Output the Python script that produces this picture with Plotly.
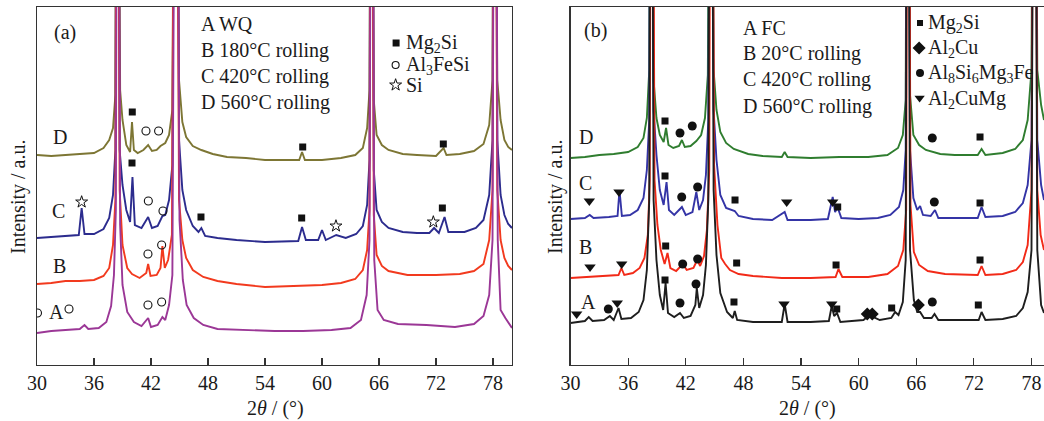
import plotly.graph_objects as go

# ---------------- data: panel (a) ----------------
a_D = [(30,210),(31.5,209),(33,210),(34.5,211),(36,212),(37,217),(37.6,225),(38.0,237),(38.25,270),(38.45,900),
       (38.75,275),(39.0,245),(39.4,220),(39.8,213),(40.0,243),(40.2,215),(40.6,212),(41.2,215),(41.7,220),(42.1,214),
       (42.6,215),(43.0,219),(43.5,222),(43.9,230),(44.25,255),(44.6,900),(44.95,285),(45.3,243),(45.7,228),(46.4,219),
       (47.3,215),(48.5,211),(50,208),(52,207),(54,205),(56,205),(57.6,205),(57.9,213),(58.2,205),(60,205),
       (62,207),(63.5,210),(64.3,217),(64.75,237),(65.0,275),(65.2,900),(65.45,265),(65.75,230),(66.3,220),(67,215),
       (68.5,211),(70,210),(72,209),(72.8,217),(73.1,210),(74.5,211),(76,214),(77,221),(77.6,240),(77.95,285),
       (78.15,900),(78.45,285),(78.8,245),(79.2,225),(79.6,218),(80,215)]
a_C = [(30,127),(31.5,128),(33,129),(34.4,130),(34.7,157),(35.0,131),(36,131),(37,136),(37.6,147),(38.0,170),
       (38.25,215),(38.45,900),(38.7,215),(39.0,180),(39.4,155),(39.8,143),(40.05,188),(40.3,140),(41.0,137),(41.7,148),
       (42.1,137),(42.7,139),(43.2,149),(43.5,150),(43.9,165),(44.25,200),(44.6,900),(44.95,225),(45.3,175),(45.7,155),
       (46.4,139),(47.0,133),(47.3,137),(47.7,129),(49,127),(51,125),(54,123),(57.5,124),(57.9,138),(58.3,125),
       (59.6,125),(60.0,135),(60.4,125),(61.5,130),(62.5,127),(63.6,131),(64.3,139),(64.75,160),(65.0,205),(65.2,900),
       (65.45,195),(65.75,155),(66.3,143),(67,137),(68.5,133),(70,132),(71.3,132),(71.8,137),(72.3,132),(72.9,148),
       (73.3,133),(75,133),(76.2,137),(77,145),(77.6,170),(77.95,225),(78.15,900),(78.45,225),(78.8,170),(79.2,150),
       (79.6,141),(80,137)]
a_B = [(30,81),(31.5,82),(33,84),(34.5,84),(36,85),(37,89),(37.6,97),(38.0,120),(38.25,165),(38.45,900),
       (38.7,175),(39.0,120),(39.5,97),(40.0,91),(40.8,87),(41.5,92),(41.7,101),(41.95,89),(42.6,90),(43.0,97),
       (43.2,119),(43.45,97),(43.8,105),(44.2,130),(44.6,900),(44.95,165),(45.3,125),(45.7,107),(46.4,95),(47.5,88),
       (49,84),(51,81),(54,78),(57,79),(60,80),(62,82),(63.5,86),(64.3,95),(64.75,115),(65.0,155),
       (65.2,900),(65.45,150),(65.75,110),(66.3,99),(67,94),(69,90),(72,90),(74.5,91),(76,94),(77,101),
       (77.6,125),(77.95,175),(78.15,900),(78.45,175),(78.8,125),(79.2,107),(79.6,99),(80,95)]
a_A = [(30,32),(31.5,34),(33,35),(34.5,36),(35.0,40),(35.4,36),(36.5,37),(37.3,43),(37.8,59),(38.1,90),
       (38.3,155),(38.5,900),(38.75,140),(39.0,80),(39.5,53),(40.2,43),(41.0,39),(41.7,47),(42.0,38),(42.7,40),
       (43.2,48),(43.5,45),(43.9,60),(44.25,90),(44.65,900),(45.0,145),(45.35,85),(45.75,60),(46.5,47),(47.5,40),
       (49,36),(52,35),(55,34),(58,34),(61,35),(63,37),(64.1,45),(64.7,70),(65.0,125),(65.25,900),
       (65.5,105),(65.85,55),(66.5,45),(68,41),(71,40),(74,38),(76,41),(77,49),(77.6,70),(77.95,125),
       (78.2,900),(78.5,125),(78.8,55),(79.3,47),(79.6,43),(80,37)]

a_sq = [(40.03,253),(57.97,218),(72.77,221),(40.0,202),(47.26,148),(57.86,147),(72.67,157)]
a_circ = [(41.47,234),(42.8,234),(41.72,164),(43.26,154),(41.68,111),(43.12,120),
          (30.05,52),(33.37,56),(41.68,60),(43.12,63)]
a_star = [(34.7,163),(61.47,139),(71.72,143)]

a_curve_labels = ["D", "C", "B", "A"]
a_conditions = ["A WQ", "B 180°C rolling", "C 420°C rolling", "D 560°C rolling"]
a_phases = ["Mg<sub>2</sub>Si", "Al<sub>3</sub>FeSi", "Si"]

# ---------------- data: panel (b) ----------------
b_D = [(30,207),(31.5,208),(33,210),(34.5,211),(36,213),(37,218),(37.6,227),(37.95,247),(38.2,295),(38.4,900),
       (38.65,285),(38.95,247),(39.3,230),(39.7,223),(39.95,237),(40.2,220),(40.7,217),(41.3,219),(41.6,225),(41.9,218),
       (42.5,219),(43.1,224),(43.6,230),(44.0,247),(44.3,290),(44.6,900),(44.9,295),(45.2,255),(45.6,233),(46.2,222),
       (47,216),(48.5,211),(50,209),(52.0,208),(52.3,213),(52.6,208),(55,207),(58,208),(61,208),(63,210),
       (64.1,217),(64.6,230),(64.9,265),(65.1,900),(65.35,270),(65.7,230),(66.3,220),(67,215),(68.5,211),(70,210),
       (72.4,210),(72.8,216),(73.2,210),(75,212),(76.3,216),(77.1,225),(77.6,245),(78.0,295),(78.3,900),(78.6,295),
       (79.0,260),(79.3,245)]
b_C = [(30,146),(31.5,147),(32.0,150),(32.4,147),(34,148),(34.9,149),(35.1,175),(35.35,149),(36.2,150),(37,155),
       (37.6,167),(37.95,195),(38.2,245),(38.4,900),(38.65,255),(38.95,210),(39.3,175),(39.7,160),(40.0,183),(40.25,155),
       (40.8,150),(41.6,158),(42.0,150),(42.7,153),(43.1,173),(43.4,155),(43.8,165),(44.1,190),(44.35,245),(44.6,900),
       (44.9,255),(45.2,205),(45.6,170),(46.2,157),(47.1,154),(47.5,149),(49,146),(51,145),(52.3,153),(52.6,145),
       (55,145),(56.8,146),(57.3,168),(57.55,153),(57.8,158),(58.2,147),(60,146),(62,147),(63.3,150),(64.2,158),
       (64.65,175),(64.9,215),(65.1,900),(65.35,215),(65.7,167),(66.1,155),(66.4,159),(66.7,150),(67.5,149),(67.95,155),
       (68.3,147),(70,147),(72.4,147),(72.8,158),(73.2,148),(75,149),(76.3,153),(77.1,162),(77.6,180),(78.0,225),
       (78.3,900),(78.6,225),(79.0,180),(79.3,165)]
b_B = [(30,87),(32,88),(33.5,89),(35.0,90),(35.3,97),(35.6,90),(36.5,92),(37.2,97),(37.7,107),(38.05,130),
       (38.25,185),(38.45,900),(38.75,185),(39.05,140),(39.4,115),(39.8,101),(40.1,112),(40.4,97),(41.0,94),(41.7,101),
       (42.1,95),(42.8,97),(43.2,105),(43.5,99),(43.9,109),(44.2,135),(44.45,195),(44.65,900),(44.95,200),(45.3,140),
       (45.7,107),(46.1,101),(46.6,95),(47.5,91),(49,89),(52,87),(55,87),(57.6,88),(57.9,96),(58.3,88),
       (61,88),(63,91),(64.1,99),(64.65,115),(64.95,155),(65.15,900),(65.4,160),(65.75,113),(66.3,100),(67.2,94),
       (69,91),(72.4,90),(72.8,99),(73.2,90),(75,91),(76.4,95),(77.1,103),(77.6,120),(78.0,175),(78.3,900),
       (78.6,175),(78.95,130),(79.3,115)]
b_A = [(30,42),(31.5,44),(31.9,48),(32.3,44),(33.5,45),(34.1,49),(34.5,45),(35.0,57),(35.3,46),(36.3,47),
       (37.1,53),(37.6,65),(37.95,95),(38.2,165),(38.4,900),(38.65,165),(38.95,105),(39.3,70),(39.65,55),(39.9,82),
       (40.15,52),(40.8,48),(41.4,52),(41.8,47),(42.5,49),(43.0,60),(43.15,77),(43.4,57),(43.8,70),(44.1,100),
       (44.35,165),(44.6,900),(44.9,175),(45.2,110),(45.6,72),(46.3,53),(46.9,47),(47.1,54),(47.35,45),(49,43),
       (52.0,43),(52.3,61),(52.6,43),(55,43),(56.9,44),(57.2,59),(57.45,49),(57.75,52),(58.1,43),(60.5,45),
       (61.0,49),(61.5,48),(62.2,45),(63.4,47),(63.8,53),(64.15,50),(64.6,63),(64.9,105),(65.1,900),(65.35,115),
       (65.75,65),(66.1,53),(66.4,53),(66.8,47),(67.6,47),(67.9,51),(68.3,45),(70,45),(72.5,45),(72.8,53),
       (73.2,45),(75,46),(76.4,49),(77.1,57),(77.6,73),(78.0,115),(78.3,900),(78.6,115),(79.0,60),(79.3,52)]

b_sq = [(39.84,244),(72.64,228),(39.84,189),(47.13,165),(57.82,158),(72.64,162),
        (39.91,119),(47.3,102),(57.65,100),(72.64,105),
        (39.84,85),(47.02,63),(57.72,56),(63.44,57),(72.46,60)]
b_dot = [(41.4,232),(42.68,239),(67.67,227),(41.58,168),(43.24,178),(67.88,163),
         (41.68,101),(43.24,106),(33.94,56),(41.4,62),(43.07,81),(67.67,63)]
b_dia = [(60.9,51),(61.42,51),(66.22,60)]
b_tri = [(31.96,164),(35.05,173),(52.51,163),(57.3,163),(32.03,98),(35.33,101),
         (30.64,51),(34.87,62),(52.23,61),(57.2,61)]

b_curve_labels = ["D", "C", "B", "A"]
b_conditions = ["A FC", "B 20°C rolling", "C 420°C rolling", "D 560°C rolling"]
b_phases = ["Mg<sub>2</sub>Si", "Al<sub>2</sub>Cu", "Al<sub>8</sub>Si<sub>6</sub>Mg<sub>3</sub>Fe", "Al<sub>2</sub>CuMg"]

x_ticks = [30, 36, 42, 48, 54, 60, 66, 72, 78]

# ---------------- styling ----------------
FONT = "Liberation Serif, Times New Roman, serif"
TXT = "#1a1a1a"
W, H = 1044, 421
a_colors = {"D": "#7d7634", "C": "#2c2c8e", "B": "#f23a1e", "A": "#9b3796"}
b_colors = {"D": "#2f7d2f", "C": "#3434a6", "B": "#f22a18", "A": "#1e1e1e"}

fig = go.Figure()

def add_curve(pts, color, xa, ya):
    fig.add_trace(go.Scatter(x=[p[0] for p in pts], y=[p[1] for p in pts], mode="lines",
                             line=dict(color=color, width=1.9), xaxis=xa, yaxis=ya,
                             showlegend=False, hoverinfo="skip"))

def add_marks(pts, symbol, size, xa, ya, lw=0):
    fig.add_trace(go.Scatter(x=[p[0] for p in pts], y=[p[1] for p in pts], mode="markers",
                             marker=dict(symbol=symbol, size=size, color="#111111",
                                         line=dict(color="#111111", width=lw)),
                             xaxis=xa, yaxis=ya, showlegend=False, hoverinfo="skip"))

for name, pts in [("D", a_D), ("C", a_C), ("B", a_B), ("A", a_A)]:
    add_curve(pts, a_colors[name], "x", "y")
for name, pts in [("D", b_D), ("C", b_C), ("B", b_B), ("A", b_A)]:
    add_curve(pts, b_colors[name], "x2", "y2")

add_marks(a_sq, "square", 7, "x", "y")
add_marks(a_circ, "circle-open", 8, "x", "y", 1.1)
add_marks(a_star, "star-open", 9, "x", "y", 1.0)
add_marks(b_sq, "square", 7, "x2", "y2")
add_marks(b_dot, "circle", 9, "x2", "y2")
add_marks(b_dia, "diamond", 10, "x2", "y2")
add_marks(b_tri, "triangle-down", 10, "x2", "y2")

# legend symbols
add_marks([(67.8, 322)], "square", 7, "x", "y")
add_marks([(67.75, 300)], "circle-open", 7, "x", "y", 1.1)
add_marks([(67.75, 280)], "star-open", 9, "x", "y", 1.0)
add_marks([(66.39, 342)], "square", 6, "x2", "y2")
add_marks([(66.3, 317)], "diamond", 10, "x2", "y2")
add_marks([(66.39, 292)], "circle", 8, "x2", "y2")
add_marks([(66.35, 267)], "triangle-down", 9, "x2", "y2")

ann = []
def text(x, y, s, xref, yref, anchor="left", size=20, angle=0):
    ann.append(dict(x=x, y=y, text=s, xref=xref, yref=yref, showarrow=False,
                    xanchor=anchor, yanchor="middle", textangle=angle,
                    font=dict(family=FONT, size=size, color=TXT)))

# panel (a)
text(32.95, 333, "(a)", "x", "y", "center")
for s, y in zip(a_conditions, [341, 315, 289, 263]):
    text(47.1, y, s, "x", "y")
for s, y in zip(a_phases, [322, 300, 280]):
    text(68.6, y, s, "x", "y")
for s, x, y in zip(a_curve_labels, [32.42, 32.21, 32.42, 32.1], [228, 154, 99, 53]):
    text(x, y, s, "x", "y", "center")
# panel (b)
text(32.65, 335, "(b)", "x2", "y2", "center")
for s, y in zip(b_conditions, [337, 312, 286, 259]):
    text(47.8, y, s, "x2", "y2")
for s, y in zip(b_phases, [342, 317, 292, 266]):
    text(67.05, y, s, "x2", "y2")
for s, x, y in zip(b_curve_labels, [31.61, 31.51, 31.61, 31.86], [228, 182, 118, 63]):
    text(x, y, s, "x2", "y2", "center")

# axis titles
text(18 / W, 1 - 197 / H, "Intensity / a.u.", "paper", "paper", "center", 20, -90)
text(555 / W, 1 - 197 / H, "Intensity / a.u.", "paper", "paper", "center", 20, -90)
text(275 / W, 1 - 408 / H, "2<i>θ</i> / (°)", "paper", "paper", "center", 20)
text(807 / W, 1 - 408 / H, "2<i>θ</i> / (°)", "paper", "paper", "center", 20)

ydom = [1 - 365 / H, 1 - 7 / H]
xcommon = dict(tickmode="array", tickvals=x_ticks, ticks="inside", ticklen=7, tickwidth=1.2,
               tickcolor="#333333", showline=True, linecolor="#333333", linewidth=1.3,
               mirror=True, showgrid=False, zeroline=False, automargin=False,
               tickfont=dict(family=FONT, size=20, color=TXT))
ycommon = dict(range=[0, 358], showticklabels=False, ticks="", showgrid=False, zeroline=False,
               showline=True, linecolor="#333333", linewidth=1.3, automargin=False, domain=ydom)

fig.update_layout(
    width=W, height=H, autosize=False,
    margin=dict(l=0, r=0, t=0, b=0, pad=0),
    paper_bgcolor="white", plot_bgcolor="white",
    showlegend=False,
    xaxis=dict(domain=[37 / W, 512 / W], range=[30, 80], anchor="y", **xcommon),
    yaxis=dict(anchor="x", mirror=True, **ycommon),
    xaxis2=dict(domain=[570.5 / W, 1.0], range=[30, 79.3], anchor="y2", **xcommon),
    yaxis2=dict(anchor="x2", mirror=False, **ycommon),
    annotations=ann,
)

fig.write_html("out.html", config={"displayModeBar": False, "staticPlot": True},
               post_script="document.body.style.margin='0';document.body.style.overflow='hidden';")
